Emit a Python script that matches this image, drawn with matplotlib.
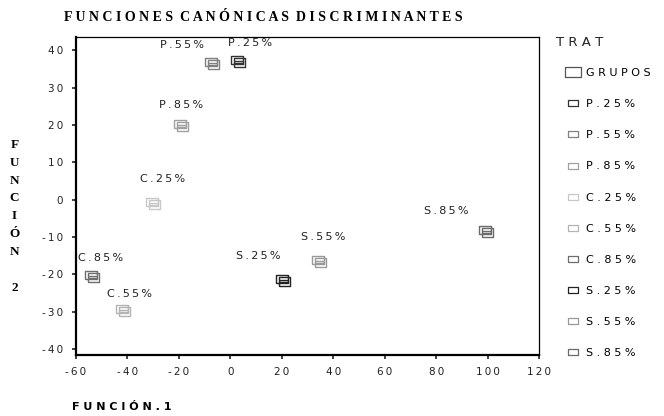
import matplotlib
matplotlib.use("Agg")
import matplotlib.pyplot as plt
from matplotlib.lines import Line2D
from matplotlib.path import Path

# centroids of the discriminant functions per treatment
groups = ["P.25%", "P.55%", "P.85%", "C.25%", "C.55%",
          "C.85%", "S.25%", "S.55%", "S.85%"]
func1 = [3, -7, -19, -30, -41.5, -53.5, 20.5, 34.5, 99.5]
func2 = [37, 36.5, 20, -1, -29.5, -20.5, -21.5, -16.5, -8.5]

x_ticks = [-60, -40, -20, 0, 20, 40, 60, 80, 100, 120]
y_ticks = [40, 30, 20, 10, 0, -10, -20, -30, -40]

# style / layout
colors = ["#333333", "#808080", "#a0a0a0", "#c8c8c8", "#b4b4b4",
          "#6e6e6e", "#222222", "#999999", "#6a6a6a"]
label_offsets = [(12, 13), (-30, 13), (0, 15), (10, 19), (6, 11),
                 (8, 13), (-25, 19), (4, 19), (-40, 15)]


def spaced(s, sep="\u2009"):
    return sep.join(s)


def rect(x0, y0, x1, y1):
    return Path([(x0, y0), (x1, y0), (x1, y1), (x0, y1), (x0, y0)])


# little "stacked boxes" glyph used by the original for the centroids
icon = Path.make_compound_path(
    rect(-1.0, -0.5, 0.8, 0.8),
    rect(-0.6, -0.9, 1.0, 0.4),
    Path([(-0.6, 0.05), (0.8, 0.05)]),
    Path([(-0.6, -0.3), (0.8, -0.3)]),
)
flat_box = rect(-1.0, -0.65, 1.0, 0.65)

fig = plt.figure(figsize=(6.64, 4.16), dpi=100)
ax = fig.add_axes([0.114, 0.147, 0.698, 0.764])

for i, g in enumerate(groups):
    ax.plot(func1[i], func2[i], ls="none", marker=icon, ms=9.5,
            mfc="none", mec=colors[i], mew=1.0)
    ax.annotate(spaced(g), (func1[i], func2[i]),
                xytext=label_offsets[i], textcoords="offset pixels",
                ha="center", va="bottom", fontsize=8,
                family="DejaVu Sans", color="#222222")

ax.set_xlim(-60, 120)
ax.set_ylim(-41.5, 43.5)
ax.set_xticks(x_ticks)
ax.set_yticks(y_ticks)
ax.set_xticklabels([spaced(str(t)) for t in x_ticks])
ax.set_yticklabels([spaced(str(t)) for t in y_ticks])
ax.tick_params(labelsize=7.5, length=3, width=1.2, colors="#222222",
               pad=6)
for side in ["left", "bottom"]:
    ax.spines[side].set_linewidth(1.6)
for side in ["top", "right"]:
    ax.spines[side].set_linewidth(0.9)

fig.text(0.097, 0.958, "  ".join(spaced(w, " ") for w in
         ["FUNCIONES", "CANÓNICAS", "DISCRIMINANTES"]),
         family="Liberation Serif", weight="bold", fontsize=10,
         ha="left", va="center")

fig.text(0.022, 0.48, "F\nU\nN\nC\nI\nÓ\nN\n\n2",
         family="Liberation Serif", weight="bold", fontsize=9.5,
         ha="center", va="center", linespacing=1.65)

fig.text(0.108, 0.022, spaced("FUNCIÓN.1", " "), family="DejaVu Sans",
         weight="bold", fontsize=8, ha="left", va="center")

fig.text(0.837, 0.897, spaced("TRAT", " "), family="DejaVu Sans",
         fontsize=9.5, ha="left", va="center", color="#222222")

handles = [Line2D([], [], ls="none", marker=flat_box, ms=11, mfc="none",
                  mec="#555555", mew=0.9)]
for c in colors:
    handles.append(Line2D([], [], ls="none", marker=flat_box, ms=6.5,
                          mfc="none", mec=c, mew=0.9))
labels = [spaced("GRUPOS", " ")] + [spaced(g, " ") for g in groups]
leg = fig.legend(handles, labels, loc="upper left",
                 bbox_to_anchor=(0.838, 0.855), frameon=False,
                 fontsize=8, labelspacing=1.9, handletextpad=0.5,
                 handlelength=1.5, borderpad=0.2)

fig.savefig("out.png", dpi=100)
